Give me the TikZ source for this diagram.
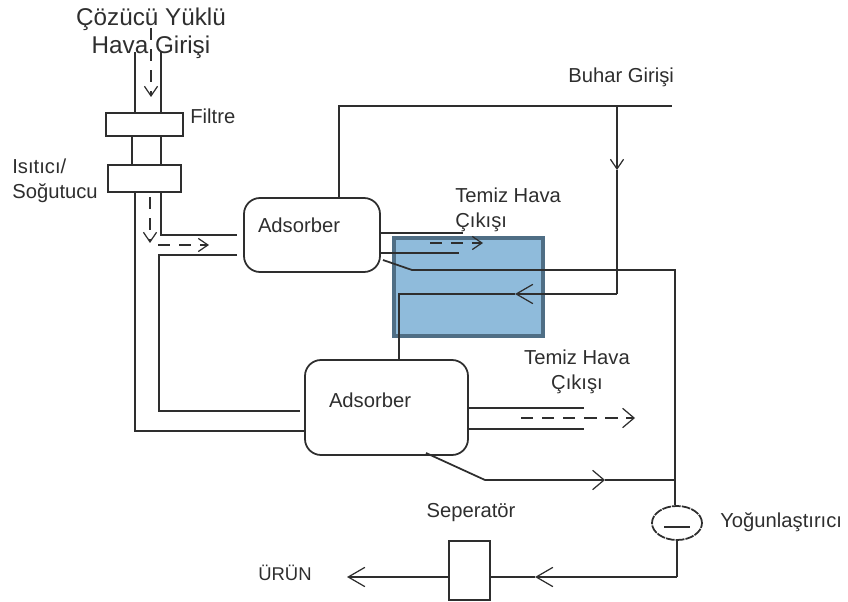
\documentclass[tikz,border=0pt]{standalone}
\usepackage{fontspec}
\setmainfont{Liberation Sans}
\usepackage{xcolor}
\usetikzlibrary{shapes,arrows.meta,positioning,calc}
\definecolor{adsblue}{HTML}{8FBBDB}
\definecolor{adsedge}{HTML}{4F6E85}
\definecolor{adsgray}{HTML}{2E2E2E}
\begin{document}
\begin{tikzpicture}[
    x=2cm,y=2cm,
    boru/.style  = {draw=adsgray,line width=1pt},
    ince/.style  = {draw=adsgray,line width=0.8pt},
    kesik/.style = {ince,dashed,dash pattern=on 7pt off 5pt},
    oku/.style   = {-{Straight Barb[length=5.5pt,width=7.5pt,line width=0.7pt]}},
    okuB/.style  = {-{Straight Barb[length=9.5pt,width=11pt,line width=0.7pt]}},
    okuC/.style  = {-{Straight Barb[length=6.5pt,width=11pt,line width=0.7pt]}},
    kutu/.style  = {boru,fill=white,inner sep=0pt},
    ads/.style   = {boru,rounded corners=0.32cm,inner sep=0pt},
    yazi/.style  = {font=\fontsize{11.5}{14}\selectfont,text=adsgray,inner sep=0pt},
  ]
  \useasboundingbox (0,0) rectangle (8.48,-6.02);

  % Mavi kutu
  \node[draw=adsedge,fill=adsblue,line width=2.3pt,minimum width=2.98cm,minimum height=1.96cm,inner sep=0pt] (mavi) at (4.685,-2.87) {};

  % Kutular
  \node[kutu,minimum width=1.54cm,minimum height=0.46cm] (filtre) at (1.445,-1.245) {};
  \node[kutu,minimum width=1.46cm,minimum height=0.54cm] (isitici) at (1.445,-1.785) {};
  \node[ads,minimum width=2.72cm,minimum height=1.48cm] (adsorberA) at (3.12,-2.35) {};
  \node[ads,minimum width=3.26cm,minimum height=1.90cm] (adsorberB) at (3.865,-4.075) {};
  \node[boru,ellipse,dashed,dash pattern=on 5pt off 0.6pt,minimum width=1.0cm,minimum height=0.68cm,inner sep=0pt] (yogun) at (6.77,-5.23) {};
  \node[kutu,minimum width=0.82cm,minimum height=1.18cm] (ayirici) at (4.695,-5.705) {};

  % Yazilar
  \node[yazi,font=\fontsize{13.8}{16}\selectfont,align=center] (giris) at (1.51,-0.33) {Çözücü Yüklü\\Hava Girişi};
  \node[yazi,anchor=west] (filtreY) at (1.90,-1.16) {Filtre};
  \node[yazi,anchor=west,align=left] (isiticiY) at (0.12,-1.81) {Isıtıcı/\\Soğutucu};
  \node[yazi] (adsA) at (2.99,-2.25) {Adsorber};
  \node[yazi] (adsB) at (3.70,-4.00) {Adsorber};
  \node[yazi,anchor=west,align=left] (temizA) at (4.55,-2.10) {Temiz Hava\\Çıkışı};
  \node[yazi,align=center] (temizB) at (5.77,-3.72) {Temiz Hava\\Çıkışı};
  \node[yazi,anchor=west] (buhar) at (5.68,-0.77) {Buhar Girişi};
  \node[yazi] (seperator) at (4.71,-5.13) {Seperatör};
  \node[yazi,anchor=west] (yogunY) at (7.20,-5.22) {Yoğunlaştırıcı};
  \node[yazi,font=\fontsize{10.5}{14}\selectfont] (urun) at (2.85,-5.73) {ÜRÜN};

  % Giris borulari
  \coordinate (solBoru) at (1.35,-0.52);
  \coordinate (sagBoru) at (1.61,-0.52);
  \coordinate (araSol) at (1.32,-1.36);
  \coordinate (solAlt) at (1.35,-4.31);
  \coordinate (ustKol) at (1.61,-2.35);
  \coordinate (altKol) at (1.59,-2.55);
  \coordinate (altKose) at (1.59,-4.11);
  \draw[boru] (solBoru) -- (solBoru |- filtre.north);
  \draw[boru] (sagBoru) -- (sagBoru |- filtre.north);
  \draw[boru] (araSol) -- (araSol |- isitici.north);
  \draw[boru] (sagBoru |- filtre.south) -- (sagBoru |- isitici.north);
  \draw[boru] (solBoru |- isitici.south) -- (solAlt) -- (solAlt -| adsorberB.west);
  \draw[boru] (sagBoru |- isitici.south) -- (ustKol) -- ([xshift=-0.12cm]ustKol -| adsorberA.west);
  \draw[boru] ([xshift=-0.12cm]altKol -| adsorberA.west) -- (altKol) -- (altKose) -- ([xshift=-0.08cm]altKose -| adsorberB.west);

  % Kesikli akislar
  \coordinate (ustOk1) at (1.51,-0.28);
  \coordinate (ustOk2) at (1.51,-0.97);
  \coordinate (altOk1) at (1.50,-1.97);
  \coordinate (altOk2) at (1.50,-2.43);
  \coordinate (yanOk1) at (1.58,-2.45);
  \coordinate (yanOk2) at (2.09,-2.45);
  \draw[kesik,oku] (ustOk1) -- (ustOk2);
  \draw[kesik,oku] (altOk1) -- (altOk2);
  \draw[kesik,oku] (yanOk1) -- (yanOk2);

  % Buhar hatti
  \coordinate (buharUc) at (6.72,-1.06);
  \coordinate (buharDon) at (3.39,-1.06);
  \coordinate (kol) at (6.17,-1.06);
  \coordinate (kolOk) at (6.17,-1.70);
  \coordinate (kolAlt) at (6.17,-2.94);
  \coordinate (kolOk2) at (5.15,-2.94);
  \coordinate (kolSol) at (3.99,-2.94);
  \draw[boru] (adsorberA.north -| buharDon) -- (buharDon) -- (buharUc);
  \draw[boru,oku] (kol) -- (kolOk);
  \draw[boru] (kolOk) -- (kolAlt);
  \draw[boru,okuB] (kolAlt) -- (kolOk2);
  \draw[boru] (kolOk2) -- (kolSol) -- (kolSol |- adsorberB.north);

  % Adsorber cikislari
  \coordinate (cikisA1) at (4.63,-2.33);
  \coordinate (cikisA2) at (4.59,-2.53);
  \coordinate (cikisOk1) at (4.30,-2.43);
  \coordinate (cikisOk2) at (4.83,-2.43);
  \coordinate (cikisB1) at (5.84,-4.08);
  \coordinate (cikisB2) at (5.84,-4.29);
  \coordinate (cikisOk3) at (5.21,-4.18);
  \coordinate (cikisOk4) at (6.35,-4.18);
  \draw[boru] (cikisA1 -| adsorberA.east) -- (cikisA1);
  \draw[boru] (cikisA2 -| adsorberA.east) -- (cikisA2);
  \draw[kesik,oku] (cikisOk1) -- (cikisOk2);
  \draw[boru,line width=1.4pt] (cikisB1 -| adsorberB.east) -- (cikisB1);
  \draw[boru] (cikisB2 -| adsorberB.east) -- (cikisB2);
  \draw[kesik,okuC] (cikisOk3) -- (cikisOk4);

  % Yogunlastirici hatti
  \coordinate (kondA1) at (3.83,-2.60);
  \coordinate (kondA2) at (4.12,-2.70);
  \coordinate (kondSag) at (6.75,-2.70);
  \coordinate (kondB1) at (4.26,-4.53);
  \coordinate (kondB2) at (4.85,-4.80);
  \coordinate (kondOk) at (6.05,-4.80);
  \coordinate (kondB3) at (6.75,-4.80);
  \draw[boru] (kondA1) -- (kondA2) -- (kondSag) -- (kondSag |- yogun.north);
  \draw[boru,okuC] (kondB1) -- (kondB2) -- (kondOk);
  \draw[boru] (kondOk) -- (kondB3);
  \coordinate (cizgi1) at (6.64,-5.27);
  \coordinate (cizgi2) at (6.90,-5.27);
  \draw[ince] (cizgi1) -- (cizgi2);

  % Urun hatti
  \coordinate (urunKose) at (6.77,-5.77);
  \coordinate (urunOk) at (5.35,-5.77);
  \coordinate (urunUc) at (3.47,-5.77);
  \draw[boru] (yogun.south) -- (urunKose);
  \draw[boru,okuB] (urunKose) -- (urunOk);
  \draw[boru] (urunOk) -- (urunOk -| ayirici.east);
  \draw[boru,okuB] (urunUc -| ayirici.west) -- (urunUc);

\end{tikzpicture}
\end{document}
